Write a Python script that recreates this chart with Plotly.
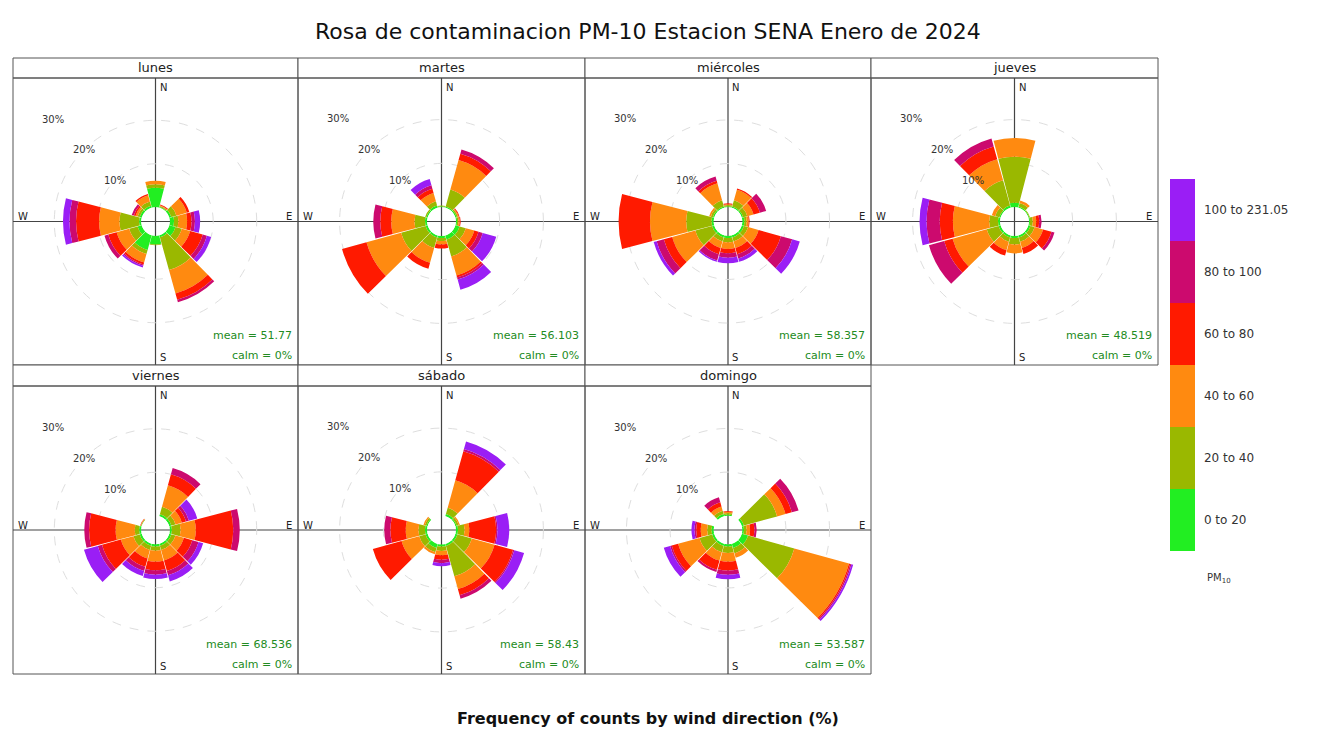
import plotly.graph_objects as go

# ---------------- data ----------------
directions = [0, 30, 60, 90, 120, 150, 180, 210, 240, 270, 300, 330]
bin_labels = ["0 to 20", "20 to 40", "40 to 60", "60 to 80", "80 to 100", "100 to 231.05"]
bin_colors = ["#22EE22", "#9AB800", "#FF8A10", "#FF1A00", "#CC0A6E", "#9A1EF5"]
days = ["lunes", "martes", "miércoles", "jueves", "viernes", "sábado", "domingo"]
means = ["51.77", "56.103", "58.357", "48.519", "68.536", "58.43", "53.587"]
calms = ["0%", "0%", "0%", "0%", "0%", "0%", "0%"]
ring_values = [10, 20, 30]

# frequency (%) per direction (rows) and PM10 bin (columns)
lunes = [[4.5, 0.8, 0.8, 0, 0, 0], [0.2, 0.2, 0.2, 0.2, 0, 0], [0.5, 1.2, 2.5, 0.6, 0, 0],
         [1, 1, 2, 1, 0.8, 1.2], [1.5, 1.5, 2, 3, 1, 1], [0.5, 7.8, 5.6, 1.5, 0.6, 0],
         [2, 0.2, 0, 0, 0, 0], [3.5, 1, 2, 0.5, 0.3, 0.4], [1, 2, 3, 2, 0.9, 0],
         [0.5, 4.5, 4.7, 5.3, 1.5, 1.5], [0.5, 0.5, 0.5, 0.4, 0.5, 0], [0.5, 1, 1.5, 0.3, 0, 0]]
martes = [[0.2, 0.2, 0, 0, 0, 0], [0.3, 4, 7, 1.5, 1, 0], [0.3, 0.3, 0.2, 0.2, 0, 0],
          [0.3, 0.3, 0.3, 0.2, 0, 0], [1, 1.5, 2, 1, 1, 3.2], [1, 4, 4.5, 0.5, 0.5, 2.4],
          [0.5, 0.7, 0.8, 0.9, 0, 0], [0.5, 2.5, 3.5, 1.4, 0, 0], [0.5, 5.8, 8.2, 5.8, 0, 0],
          [0.5, 2.4, 5.3, 2.5, 1.6, 0], [0.3, 0.3, 0, 0, 0, 0], [0.5, 1, 2, 1, 0.8, 1.5]]
miercoles = [[0.2, 0.3, 0.2, 0.2, 0, 0], [0.3, 1.5, 2.5, 0.3, 0, 0], [0.3, 1, 1.5, 1.5, 1.5, 0],
             [0.5, 0.5, 0.5, 0.2, 0, 0], [0.5, 1, 2.5, 5.3, 2.7, 1.8], [0.5, 1, 1.5, 1.5, 1, 0.8],
             [0.5, 1, 1.5, 1, 1, 1.3], [0.5, 1, 1.5, 1.5, 1.5, 0.3], [0.5, 4, 5.5, 2, 1.7, 0.7],
             [0.5, 5.8, 8.3, 7.2, 0, 0], [0.3, 0.5, 0.4, 0, 0, 0], [0.3, 1.5, 4, 0.6, 1, 0]]
jueves = [[1, 10.5, 4.3, 0, 0, 0], [0.3, 0.8, 0.6, 0, 0, 0], [0.2, 0.2, 0, 0, 0, 0],
          [0.3, 0.6, 0.8, 0.7, 0.5, 0], [0.5, 1, 2, 2, 0.7, 0], [0.5, 1, 1.5, 1.4, 0, 0],
          [0.5, 1.5, 2, 0, 0, 0], [0.5, 1, 2, 1.3, 0, 0], [0.5, 2.8, 8.1, 2, 3.6, 0],
          [0.5, 2, 8.3, 3, 3, 1.6], [0.3, 1, 0.8, 0, 0, 0], [0.5, 6, 5, 3, 1.9, 0]]
viernes = [[0, 0, 0, 0, 0, 0], [0.5, 1.8, 5.1, 2.6, 1.5, 0], [0.5, 1, 1.5, 1, 0.7, 2],
           [0.5, 2, 3.5, 8.6, 1.5, 0], [0.5, 1, 2, 2, 1.5, 1.1], [0.5, 1, 2.5, 2.5, 1, 1.5],
           [0.5, 1, 2.5, 2, 1, 1], [0.5, 1, 2, 2, 1, 1.2], [0.5, 1.5, 3, 4.5, 1, 3.3],
           [0.5, 1, 4.4, 6.1, 1.1, 0], [0.1, 0.1, 0.1, 0.1, 0, 0], [0, 0, 0, 0, 0, 0]]
sabado = [[0, 0, 0, 0, 0, 0], [0.5, 1.5, 6.5, 6.9, 0.5, 1.8], [0.3, 0.5, 0.3, 0, 0, 0],
          [0.5, 1.5, 1.1, 6.1, 0.3, 2.7], [0.5, 3.4, 5.4, 4.4, 0.3, 2.3], [0.5, 7.2, 3, 1.5, 0.8, 0],
          [0.5, 1, 1, 1, 0.8, 0.7], [1, 1, 0.5, 0, 0, 0], [0.5, 1.5, 4.2, 6.8, 0, 0],
          [0.5, 1.5, 2.9, 3.5, 1.4, 0], [0.3, 0.4, 0.3, 0, 0, 0], [0, 0, 0, 0, 0, 0]]
domingo = [[0.3, 0.3, 0.3, 0.2, 0, 0], [0, 0, 0, 0, 0, 0], [0.5, 7.9, 2, 1.5, 1.6, 0],
           [0.4, 0.6, 0.8, 1, 0.5, 0], [1.5, 11, 13, 0.3, 0.3, 0.4], [1, 1.3, 1, 0, 0, 0],
           [0.5, 1.5, 2, 2, 1, 1], [0.5, 1.5, 2, 2.2, 0.5, 0], [0.5, 3, 5.1, 1.5, 0.4, 1.5],
           [0.5, 1, 1.5, 1, 0.4, 0.7], [0, 0, 0, 0, 0, 0], [0.5, 0.8, 1, 1, 1.2, 0]]
day_freqs = [lunes, martes, miercoles, jueves, viernes, sabado, domingo]

# ---------------- layout geometry (pixels in the screenshot) ----------------
W, H = 1325, 729
OFF = 8  # page body margin added by the browser
col_edges = [13, 298, 585, 871, 1158]
row_strip = [(58, 78), (365, 386)]
row_body = [(78, 365), (386, 674)]
HOLE = 0.1
RMAX = 29.5
FONT = "DejaVu Sans, Liberation Sans, Arial, sans-serif"
LINE = "#555555"


def px(x):
    return (x - OFF) / W


def py(y):
    return 1 - (y - OFF) / H


def text(x, y, s, size, color="#222", xanchor="center", yanchor="middle"):
    return dict(x=px(x), y=py(y), xref="paper", yref="paper", text=s, showarrow=False,
                xanchor=xanchor, yanchor=yanchor,
                font=dict(size=size, color=color, family=FONT))


fig = go.Figure()
shapes = []
annotations = []
layout_polars = {}

n_bins = len(bin_labels)
colorscale = []
for k, c in enumerate(bin_colors):
    colorscale.append([k / n_bins, c])
    colorscale.append([(k + 1) / n_bins, c])

for i, (day, freqs) in enumerate(zip(days, day_freqs)):
    row, col = divmod(i, 4)
    x0, x1 = col_edges[col], col_edges[col + 1]
    sy0, sy1 = row_strip[row]
    by0, by1 = row_body[row]
    cx, cy = (x0 + x1) / 2, (by0 + by1) / 2
    R = min(x1 - x0, by1 - by0) / 2
    pid = "polar" if i == 0 else f"polar{i + 1}"

    for k in range(n_bins):
        fig.add_trace(go.Barpolar(
            r=[row_vals[k] for row_vals in freqs],
            theta=directions,
            width=[29] * len(directions),
            marker=dict(color=[k + 0.5] * len(directions), coloraxis="coloraxis",
                        line=dict(width=0)),
            name=bin_labels[k],
            subplot=pid,
            showlegend=False,
        ))

    layout_polars[pid] = dict(
        domain=dict(x=[px(x0), px(x1)], y=[py(by1), py(by0)]),
        hole=HOLE,
        bgcolor="rgba(0,0,0,0)",
        barmode="stack",
        radialaxis=dict(range=[0, RMAX], tickvals=ring_values, showticklabels=False,
                        ticks="", showline=False, gridcolor="#dedede", griddash="dash",
                        gridwidth=1),
        angularaxis=dict(rotation=90, direction="clockwise", showgrid=False,
                         showline=False, showticklabels=False, ticks=""),
    )

    # frames
    shapes.append(dict(type="rect", xref="paper", yref="paper", x0=px(x0), x1=px(x1),
                       y0=py(sy1), y1=py(sy0), line=dict(color=LINE, width=1),
                       fillcolor="white", layer="below"))
    shapes.append(dict(type="rect", xref="paper", yref="paper", x0=px(x0), x1=px(x1),
                       y0=py(by1), y1=py(by0), line=dict(color=LINE, width=1),
                       layer="below"))
    # cross lines
    shapes.append(dict(type="line", xref="paper", yref="paper", x0=px(cx), x1=px(cx),
                       y0=py(by1), y1=py(by0), line=dict(color="#444444", width=1.2),
                       layer="below"))
    shapes.append(dict(type="line", xref="paper", yref="paper", x0=px(x0), x1=px(x1),
                       y0=py(cy), y1=py(cy), line=dict(color="#444444", width=1.2),
                       layer="below"))

    # strip text
    annotations.append(text(cx, (sy0 + sy1) / 2, day, 13))
    # compass letters
    annotations.append(text(cx + 2, by0 + 9, "N", 10, xanchor="left"))
    annotations.append(text(cx + 2, by1 - 8, "S", 10, xanchor="left"))
    annotations.append(text(x0 + 3, cy - 5, "W", 10, xanchor="left"))
    annotations.append(text(x1 - 4, cy - 5, "E", 10, xanchor="right"))

    # ring labels along NW diagonal
    for v in ring_values:
        rp = R * (HOLE + (1 - HOLE) * v / RMAX)
        annotations.append(text(cx - rp * 0.7071, cy - rp * 0.7071, f"{v}%", 10, "#333"))

    # mean / calm
    annotations.append(text(x1 - 4, by1 - 30, f"mean = {means[i]}", 11, "forestgreen",
                            xanchor="right"))
    annotations.append(text(x1 - 4, by1 - 10, f"calm = {calms[i]}", 11, "forestgreen",
                            xanchor="right"))

# title, axis label, key title
annotations.append(text(648, 31, "Rosa de contaminacion PM-10 Estacion SENA Enero de 2024",
                        22, "#111"))
annotations.append(text(648, 718, "<b>Frequency of counts by wind direction (%)</b>",
                        16, "#111"))
annotations.append(text(1205, 578, "PM<sub>10</sub>", 10, "#333", xanchor="left"))

fig.update_layout(
    width=W, height=H,
    margin=dict(l=0, r=0, t=0, b=0),
    paper_bgcolor="white",
    plot_bgcolor="white",
    font=dict(family=FONT),
    shapes=shapes,
    annotations=annotations,
    coloraxis=dict(
        colorscale=colorscale, cmin=0, cmax=n_bins,
        colorbar=dict(
            x=px(1170), xanchor="left", y=py(365), yanchor="middle",
            len=372, lenmode="pixels", thickness=25, xpad=0, ypad=0,
            outlinewidth=0, ticks="outside", ticklen=7, tickcolor="rgba(0,0,0,0)",
            tickvals=[k + 0.5 for k in range(n_bins)], ticktext=bin_labels,
            tickfont=dict(size=12, color="#333", family=FONT),
        ),
    ),
    **layout_polars,
)

fig.write_html("out.html")
